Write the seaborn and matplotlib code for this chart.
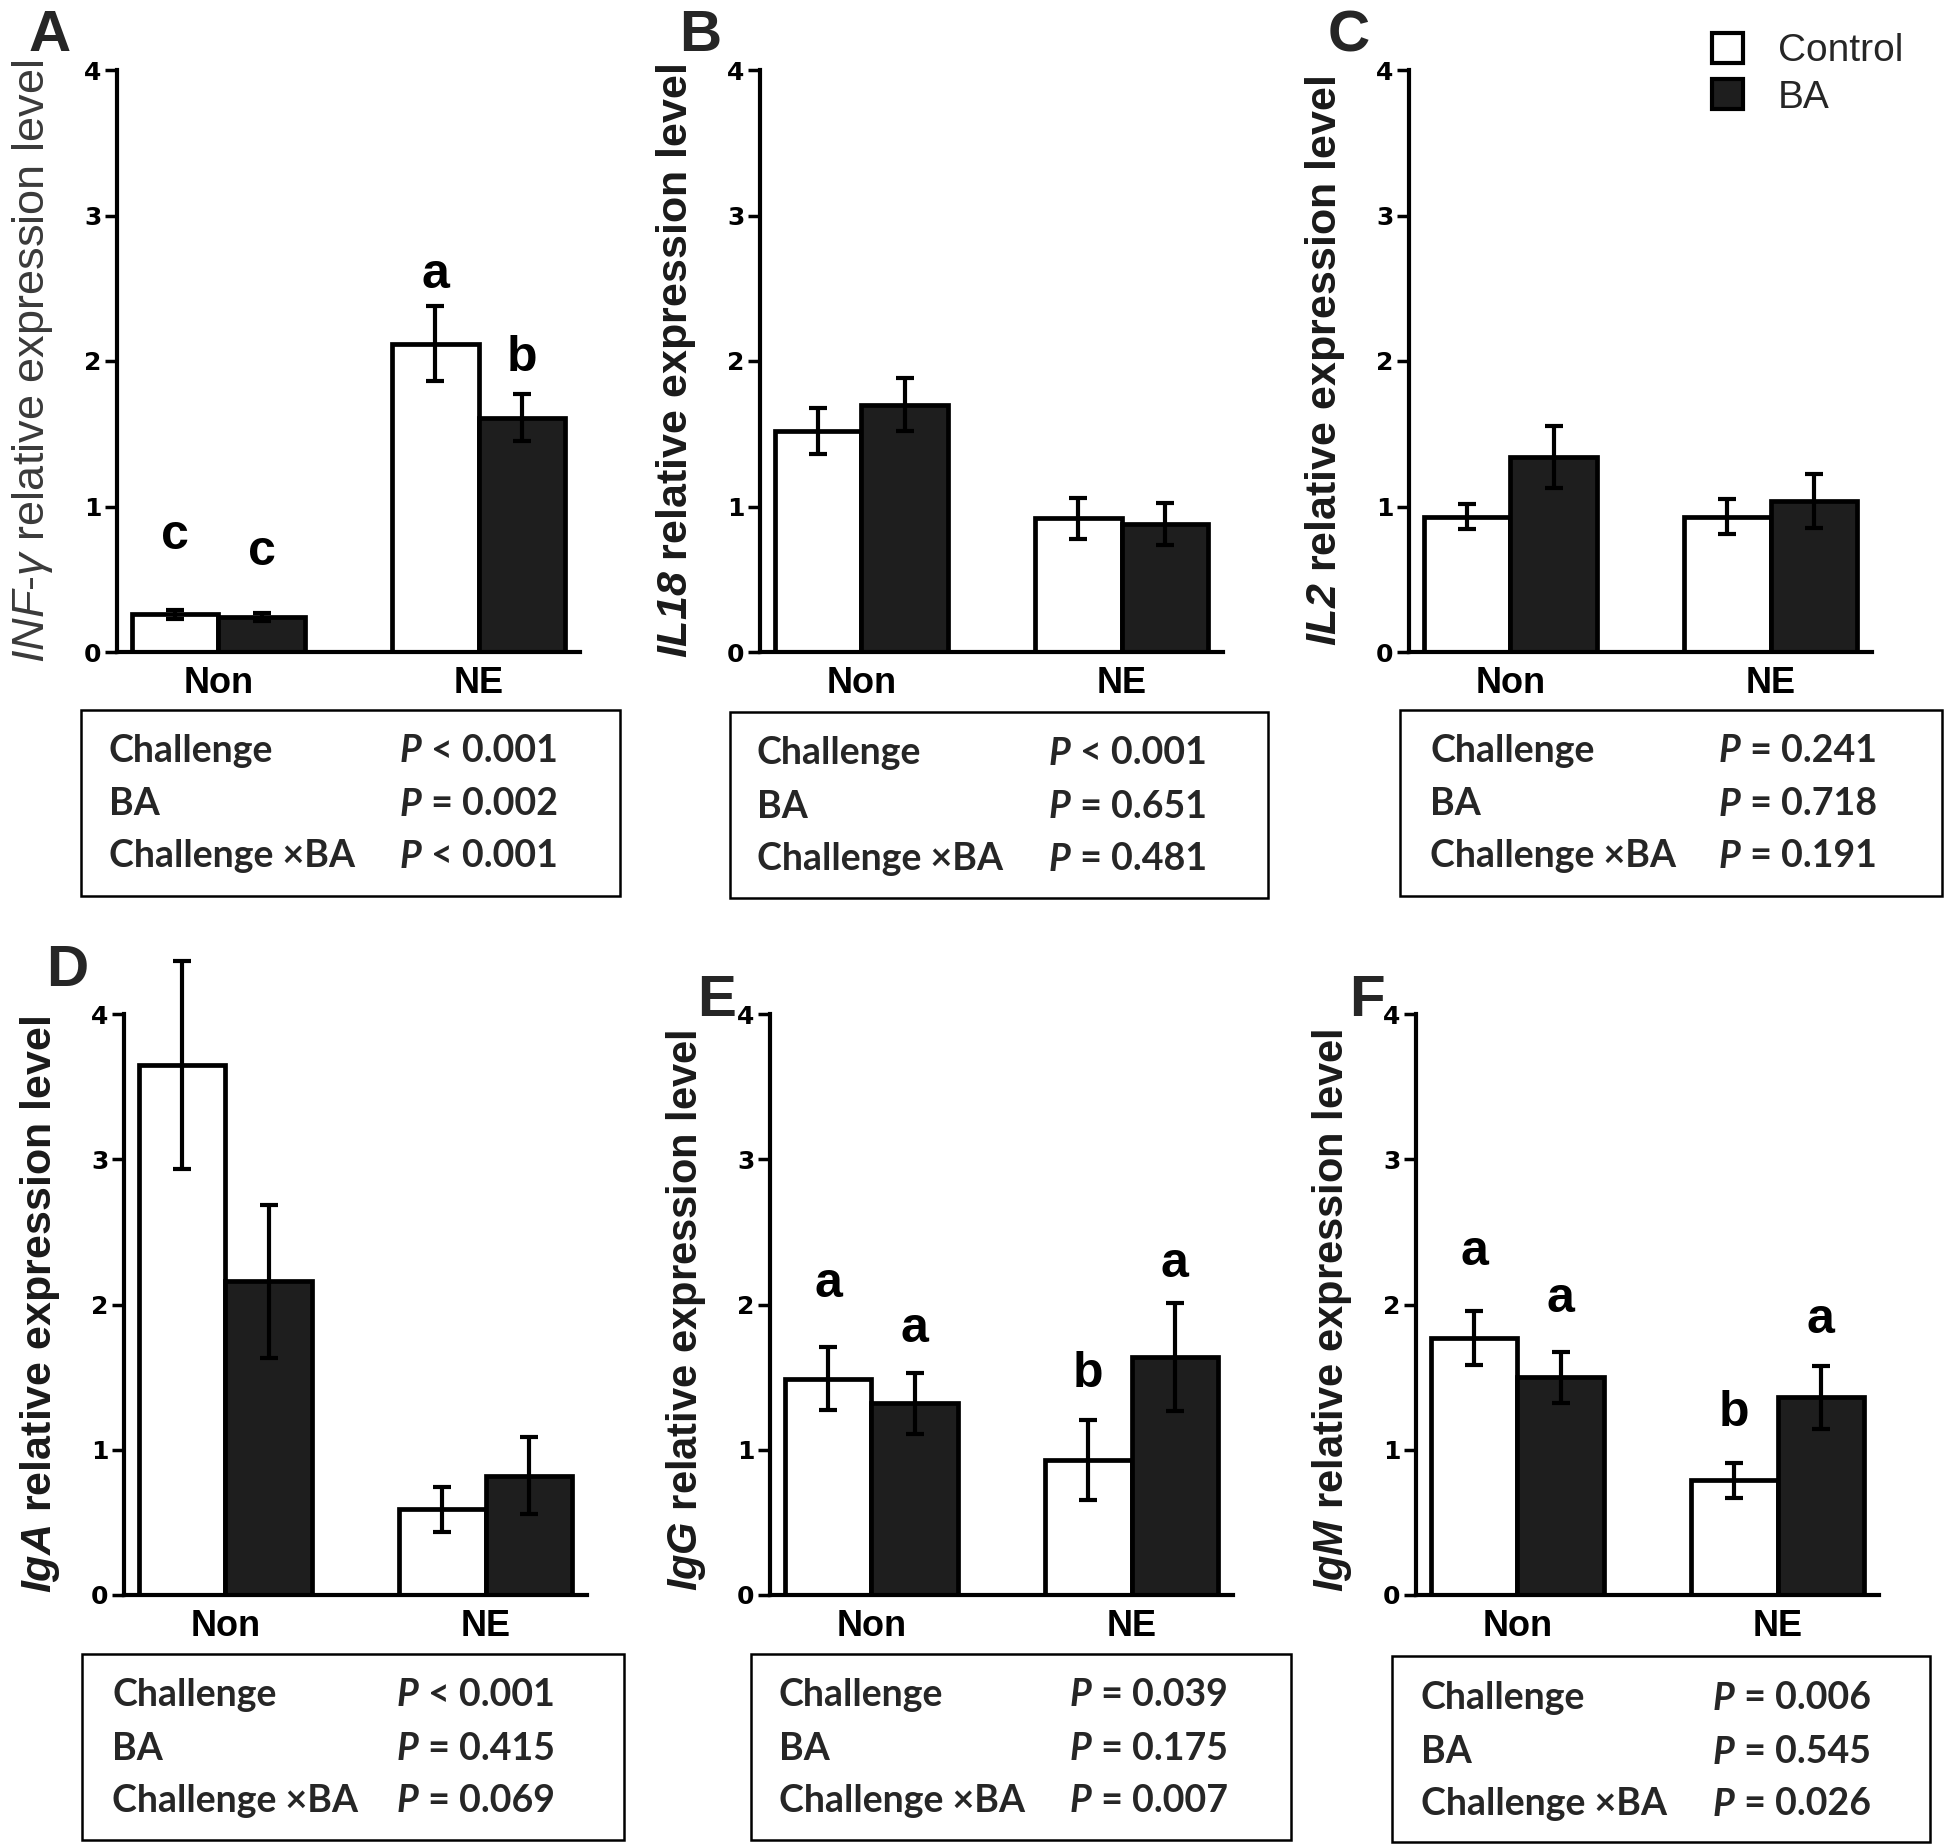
import numpy as np
import pandas as pd
import matplotlib
matplotlib.use("Agg")
import matplotlib.pyplot as plt
import seaborn as sns
from matplotlib.patches import Rectangle, Patch

# ---------------- data ----------------
challenge = ["Non", "NE"]
treatments = ["Control", "BA"]

infg_control = [0.26, 2.12]
infg_control_se = [0.03, 0.255]
infg_ba = [0.24, 1.61]
infg_ba_se = [0.03, 0.16]
infg_letters = ["c", "c", "a", "b"]

il18_control = [1.52, 0.92]
il18_control_se = [0.16, 0.14]
il18_ba = [1.70, 0.88]
il18_ba_se = [0.18, 0.145]

il2_control = [0.93, 0.93]
il2_control_se = [0.085, 0.12]
il2_ba = [1.34, 1.04]
il2_ba_se = [0.21, 0.185]

iga_control = [3.65, 0.59]
iga_control_se = [0.715, 0.155]
iga_ba = [2.16, 0.82]
iga_ba_se = [0.525, 0.265]

igg_control = [1.49, 0.93]
igg_control_se = [0.215, 0.275]
igg_ba = [1.32, 1.64]
igg_ba_se = [0.21, 0.37]
igg_letters = ["a", "a", "b", "a"]

igm_control = [1.77, 0.79]
igm_control_se = [0.185, 0.12]
igm_ba = [1.50, 1.36]
igm_ba_se = [0.175, 0.215]
igm_letters = ["a", "a", "b", "a"]

effects = ["Challenge", "BA", "Challenge ×BA"]
p_infg = ["< 0.001", "= 0.002", "< 0.001"]
p_il18 = ["< 0.001", "= 0.651", "= 0.481"]
p_il2 = ["= 0.241", "= 0.718", "= 0.191"]
p_iga = ["< 0.001", "= 0.415", "= 0.069"]
p_igg = ["= 0.039", "= 0.175", "= 0.007"]
p_igm = ["= 0.006", "= 0.545", "= 0.026"]

yticks = [0, 1, 2, 3, 4]

# ---------------- style ----------------
sns.set_theme(style="ticks")
plt.rcParams["font.family"] = ["Liberation Sans", "DejaVu Sans"]
plt.rcParams["mathtext.fontset"] = "custom"
plt.rcParams["mathtext.rm"] = "Liberation Sans"
plt.rcParams["mathtext.it"] = "Liberation Sans:italic"
plt.rcParams["mathtext.bf"] = "Liberation Sans:bold"
plt.rcParams["mathtext.bfit"] = "Liberation Sans:italic:bold"

W, H = 1946, 1845
fig = plt.figure(figsize=(W / 100, H / 100), dpi=100)
fig.patch.set_facecolor("white")

BA_COLOR = "#1e1e1e"

panels = [
    dict(letter="A", ctrl=infg_control, cse=infg_control_se, ba=infg_ba, bse=infg_ba_se,
         letters=infg_letters, letter_y=[0.80, 0.69, 2.59, 2.02],
         ylabel=r"$\mathit{INF}$-$\mathit{γ}$ relative expression level", ybold=False,
         ylsize=32.5, ylc=0.5, ax=(117, 70, 580, 652), tag=(29, 51),
         box=(81, 710, 620, 896), tx=109, px=400, rows=[751, 804, 856], p=p_infg),
    dict(letter="B", ctrl=il18_control, cse=il18_control_se, ba=il18_ba, bse=il18_ba_se,
         letters=None, letter_y=None,
         ylabel=r"$\mathbfit{IL18}$ relative expression level", ybold=True,
         ylsize=31, ylc=0.5, ax=(760, 70, 1223, 652), tag=(679, 51),
         box=(730, 712, 1268, 898), tx=757, px=1049, rows=[753, 807, 859], p=p_il18),
    dict(letter="C", ctrl=il2_control, cse=il2_control_se, ba=il2_ba, bse=il2_ba_se,
         letters=None, letter_y=None,
         ylabel=r"$\mathbfit{IL2}$ relative expression level", ybold=True,
         ylsize=31, ylc=0.5, ax=(1409, 70, 1872, 652), tag=(1328, 51),
         box=(1400, 710, 1942, 896), tx=1430, px=1719, rows=[751, 804, 856], p=p_il2),
    dict(letter="D", ctrl=iga_control, cse=iga_control_se, ba=iga_ba, bse=iga_ba_se,
         letters=None, letter_y=None,
         ylabel=r"$\mathbfit{IgA}$ relative expression level", ybold=True,
         ylsize=31, ylc=0.5, ax=(124, 1014, 587, 1595), tag=(46, 986),
         box=(82, 1654, 624, 1840), tx=112, px=397, rows=[1695, 1749, 1801], p=p_iga),
    dict(letter="E", ctrl=igg_control, cse=igg_control_se, ba=igg_ba, bse=igg_ba_se,
         letters=igg_letters, letter_y=[2.14, 1.83, 1.52, 2.28],
         ylabel=r"$\mathbfit{IgG}$ relative expression level", ybold=True,
         ylsize=30, ylc=0.49, ax=(770, 1014, 1233, 1595), tag=(697, 1016),
         box=(751, 1654, 1291, 1840), tx=779, px=1070, rows=[1695, 1749, 1801], p=p_igg),
    dict(letter="F", ctrl=igm_control, cse=igm_control_se, ba=igm_ba, bse=igm_ba_se,
         letters=igm_letters, letter_y=[2.36, 2.04, 1.25, 1.89],
         ylabel=r"$\mathbfit{IgM}$ relative expression level", ybold=True,
         ylsize=30, ylc=0.49, ax=(1416, 1014, 1879, 1595), tag=(1349, 1016),
         box=(1392, 1656, 1930, 1842), tx=1421, px=1713, rows=[1698, 1752, 1804], p=p_igm),
]


def fx(x):
    return x / W


def fy(y):
    return 1 - y / H


first_ax = None
for pnl in panels:
    l, t, r, b = pnl["ax"]
    ax = fig.add_axes([fx(l), fy(b), (r - l) / W, (b - t) / H])
    if first_ax is None:
        first_ax = ax
    df = pd.DataFrame({
        "Challenge": challenge * 2,
        "Treatment": ["Control"] * 2 + ["BA"] * 2,
        "value": list(pnl["ctrl"]) + list(pnl["ba"]),
    })
    se = {("Non", "Control"): pnl["cse"][0], ("NE", "Control"): pnl["cse"][1],
          ("Non", "BA"): pnl["bse"][0], ("NE", "BA"): pnl["bse"][1]}
    sns.barplot(data=df, x="Challenge", y="value", hue="Treatment",
                order=challenge, hue_order=treatments,
                palette={"Control": "white", "BA": BA_COLOR}, saturation=1,
                edgecolor="black", linewidth=3.4, width=0.665,
                errorbar=None, legend=False, ax=ax)
    bars = sorted(ax.patches, key=lambda p: p.get_x())
    keys = [("Non", "Control"), ("Non", "BA"), ("NE", "Control"), ("NE", "BA")]
    xs = [bb.get_x() + bb.get_width() / 2 for bb in bars]
    ys = [bb.get_height() for bb in bars]
    errs = [se[k] for k in keys]
    ax.errorbar(xs, ys, yerr=errs, fmt="none", ecolor="black", elinewidth=3.0,
                capsize=6.5, capthick=3.0, clip_on=False, zorder=5)
    if pnl["letters"]:
        for x, lab, ly in zip(xs, pnl["letters"], pnl["letter_y"]):
            ax.text(x, ly, lab, ha="center", va="center", fontsize=36,
                    fontweight="bold", color="black")
    ax.set_xlim(-0.39, 1.39)
    ax.set_ylim(0, 4)
    ax.set_yticks(yticks)
    ax.set_yticklabels([str(v) for v in yticks])
    sns.despine(ax=ax)
    ax.spines["left"].set_bounds(0, 4)
    for s in ("left", "bottom"):
        ax.spines[s].set_linewidth(3.0)
        ax.spines[s].set_color("black")
    ax.tick_params(axis="y", length=9, width=2.5, pad=2, labelsize=18, colors="black")
    ax.tick_params(axis="x", length=0, pad=10, labelsize=26, colors="black")
    for lbl in ax.get_yticklabels():
        lbl.set_fontweight("bold")
        lbl.set_family("DejaVu Sans")
    for lbl in ax.get_xticklabels():
        lbl.set_fontweight("bold")
    ax.set_xlabel("")
    ax.set_ylabel(pnl["ylabel"], fontsize=pnl["ylsize"],
                  fontweight="bold" if pnl["ybold"] else "normal",
                  color="#1a1a1a" if pnl["ybold"] else "#3a3a3a")
    ax.yaxis.set_label_coords(-62 / (r - l), pnl["ylc"])
    ax.patch.set_alpha(0)

    # panel tag
    fig.text(fx(pnl["tag"][0]), fy(pnl["tag"][1]), pnl["letter"], fontsize=42,
             fontweight="bold", ha="left", va="baseline")

    # stats box
    bx0, by0, bx1, by1 = pnl["box"]
    fig.add_artist(Rectangle((fx(bx0), fy(by1)), (bx1 - bx0) / W, (by1 - by0) / H,
                             transform=fig.transFigure, fill=False, lw=1.8,
                             ec="black"))
    for eff, pv, ry in zip(effects, pnl["p"], pnl["rows"]):
        fig.text(fx(pnl["tx"]), fy(ry), eff, fontsize=27, fontweight="bold",
                 family="Lato", ha="left", va="center")
        ptxt = fig.text(fx(pnl["px"]), fy(ry), "P", fontsize=27, fontweight="bold",
                        style="italic", family="Lato", ha="left", va="center")
        first_ax.annotate(" " + pv, xy=(1, 0.5), xycoords=ptxt, fontsize=27,
                          fontweight="bold", family="Lato", ha="left", va="center",
                          annotation_clip=False)

# legend
handles = [Patch(facecolor="white", edgecolor="black", lw=3, label="Control"),
           Patch(facecolor=BA_COLOR, edgecolor="black", lw=3, label="BA")]
fig.legend(handles=handles, loc="upper left",
           bbox_to_anchor=(fx(1712), fy(33)), frameon=False, fontsize=28,
           handlelength=0.8, handleheight=0.8, handletextpad=0.9,
           labelspacing=0.25, borderpad=0, borderaxespad=0)

fig.savefig("out.png", dpi=100, facecolor="white")
